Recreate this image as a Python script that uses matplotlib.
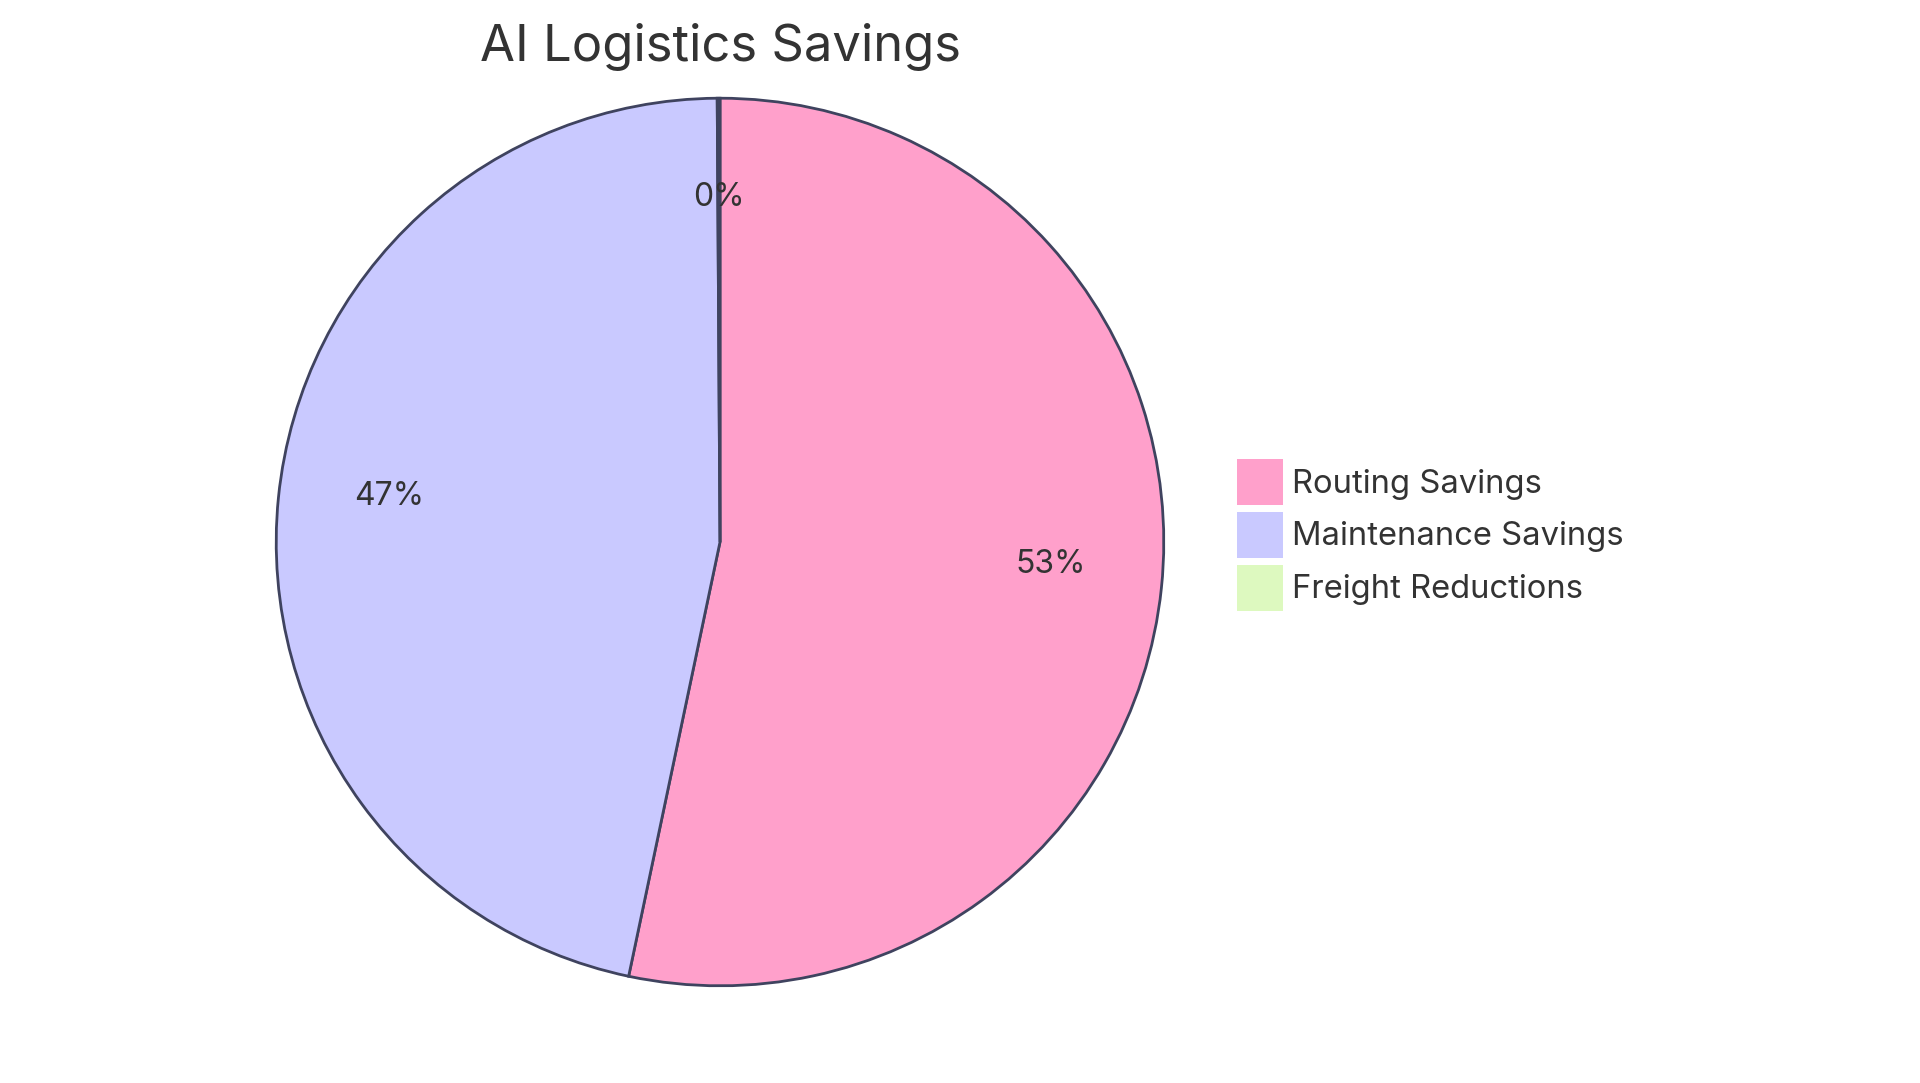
import matplotlib.pyplot as plt
from matplotlib.patches import Patch

labels = ["Routing Savings", "Maintenance Savings", "Freight Reductions"]
shares = [53.3, 46.6, 0.1]
colors = ["#ffa0cb", "#c9c9ff", "#ddf9bf"]

edge = "#3f435f"
text_color = "#333333"
W, H = 1920, 1083

plt.rcParams["font.family"] = ["Inter", "DejaVu Sans"]

fig = plt.figure(figsize=(W / 100, H / 100), dpi=100)

# pie box in pixels: centre (720, 542), radius 446
cx, cy, r = 720, 542, 446
ax = fig.add_axes([(cx - r) / W, (H - cy - r) / H, 2 * r / W, 2 * r / H])
wedges, texts, autotexts = ax.pie(
    shares, colors=colors, startangle=90, counterclock=False,
    autopct="%.0f%%", pctdistance=0.75,
    wedgeprops=dict(edgecolor=edge, linewidth=2.0),
    textprops=dict(color=text_color, fontsize=23),
)
for t in autotexts:
    t.set_va("baseline")
    x, y = t.get_position()
    t.set_position((x, y + 0.008))
ax.set_xlim(-1.005, 1.005)
ax.set_ylim(-1.005, 1.005)
ax.set_aspect("equal")
ax.axis("off")

fig.text(cx / W, 1 - 61 / H, "AI Logistics Savings", ha="center", va="baseline",
         fontsize=36.5, color=text_color)

handles = [Patch(facecolor=c, edgecolor="none") for c in colors]
fig.legend(handles, labels, loc="upper left", bbox_to_anchor=(1237 / W, 1 - 459 / H),
           frameon=False, fontsize=23.6, borderpad=0, borderaxespad=0,
           handlelength=1.40, handleheight=1.78, handletextpad=0.27,
           labelspacing=0.21, labelcolor=text_color)

fig.savefig("out.png", dpi=100)
